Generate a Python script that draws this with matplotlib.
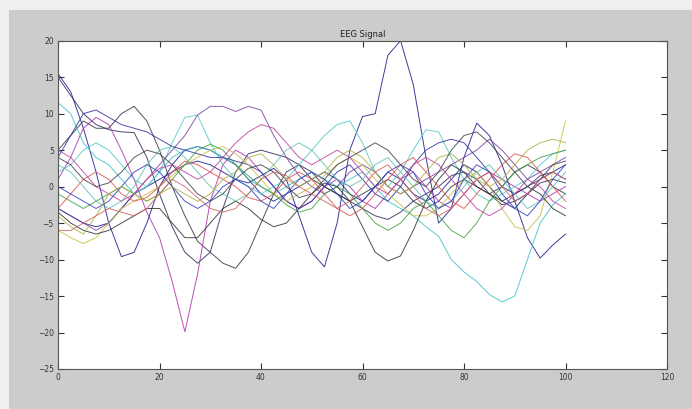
import numpy as np
import matplotlib
matplotlib.use("Agg")
import matplotlib.pyplot as plt
from matplotlib.patches import Rectangle

# sample positions (every 2.5 samples, 0..100)
x = np.arange(0, 100.1, 2.5)

s1 = [15.5, 13, 8, 2, -5, -9.6, -9, -5, 0, 3, 5, 5.5, 5, 4, 3, 1, -1, -2, -1, 0, 1,
      2, 1, -1, -2, 0, 2, 1, -1, -2, -1, 1, 3, 2, 0, -2, -3, -1, 1, 2, 3]
s2 = [15, 12.5, 10, 8.5, 7.8, 7.5, 7.4, 4, -1, -5.5, -9, -10.5, -9, -3, 2, 4.5, 5, 4.5, 4, 3, 1,
      0, -1, -2, -3, -4, -4.5, -3.5, -2, -1, 0, 1.5, 2, 1, -1, -2.5, -2, -1, 0.5, 1, 0.5]
s3 = [5, 7, 9, 8, 8, 10, 11, 9, 5, 0, -4, -7.5, -9, -10.5, -11.2, -9, -5, -1, 2, 3, 2,
      0, -1, -2, -1, 0, 1, 0, -2, -3, -2, 0, 1, 0, -1, 0, 2, 3, 2, 0, -1]
s4 = [-3, -4, -5, -5.5, -5, -3, -1, 0, 1, 2, 3, 3.5, 3, 2, 1, 0.5, 1.5, 2.5, 1, -4, -9,
      -11, -5, 5, 9.6, 10, 18, 20, 14, 4, -5, -3, 4, 8.7, 7, 3, -2, -7, -9.8, -8, -6.5]
s5 = [1, 4, 8, 9.5, 8.5, 5, 1, -3.5, -7, -13, -19.9, -12, -2, 3, 5, 4, 2, 0, -2, -3, -2,
      0, 1, 0, -2, -3, -1, 1, 2, 0, -2, -3, -1, 1, 2, 1, 0, -1, -2, -1, 0]
s6 = [11.5, 10, 6, 4, 3, 1, -1, 0, 2, 4, 5, 5.5, 5, 4, 3, 1, 0, -1, 0, 1, 2,
      1, 0, 1, 2, 0, -2, -3, -4, -5.5, -6.8, -10, -11.7, -13, -14.8, -15.8, -15, -10, -5, -2.5, -1]
s7 = [2, 3, 5, 6, 5, 3, 1, 0, 2, 6, 9.5, 9.8, 6, 3, 1, 0, -1, 0, 1, 3, 5,
      7, 8.5, 9, 6, 2, 0, 2, 5, 7.8, 7.5, 4, 1, -1, -2, -1, 0, 1, 3, 4.5, 5]
s8 = [-3, -4, -5, -6, -5, -3, -1, 1, 3, 5, 7, 9.8, 11, 11, 10.3, 11, 10.5, 7, 4, 1.5, 0,
      -1, 0, 2, 3, 2, 0, -1, 0, 1, 2, 3, 4, 5, 6.5, 5, 3, 1, 2, 3, 4]
s9 = [4, 7, 10, 10.5, 9.5, 8.5, 8, 7.5, 6.5, 5.5, 5, 4.5, 4, 4, 3.5, 3, 2, 0, -2, -3, -2,
      0, 2, 3, 1, -1, -2, 0, 3, 5, 6, 6.5, 6, 4, 2, 0, -1, 0, 1.5, 2, 1]
s10 = [-6, -7, -7.8, -7, -5, -3, -2, -1, 0, 1.5, 3, 4, 5, 5.5, 4.5, 3, 1, -1, -2, -1, 0,
       1.5, 3, 4, 3, 1, -1, -2.5, -4, -4, -3, -1, 1, 2, 0, -3, -5.5, -6, -4, 2, 9]
s11 = [-1, -2, -3, -2, -1, 0, -1, -2, -1, 1, 3, 5, 5.8, 5, 3, 1.5, 0, -1, -2.5, -3.5, -3,
       -1, 0, -1, -3, -5, -6, -5, -3, -2, -4, -6, -7, -5, -2, 0, 2, 3, 4, 4.5, 5]
s12 = [-3, -1, 1, 2, 1, -1, -2, -1.5, 0, 2, 3.5, 3, 2, 1, 0, -1.5, -2, -1, 1, 2, 1,
       -1, -3, -4, -3, -1, 1, 3, 4, 2, 0, -2, -3, -1, 1, 3, 4.5, 4, 2, 0, -2]
s13 = [-3.5, -5, -6, -6.5, -6, -5, -4, -3, -3, -5, -7, -7, -5, -3, -2, -3, -4.5, -5.5, -5, -3, -1,
       0.5, 0, -2, -5.5, -9, -10.2, -9.5, -6, -2, 1, 3, 2, 0, -1, -2, -1, 0, -1, -3, -4]
s14 = [5, 4, 2, 0, -1, -2, -1, 1, 2.5, 3, 2, 1, 2, 4, 6, 7.5, 8.5, 8, 6, 4, 3,
       4, 5, 4, 2, 0, -1, 1, 3, 4, 3, 1, -1, -3, -4, -3, -1, 1, 0, -2, -3]
s15 = [3, 2, 0, -2, -3, -2, 0, 3, 5, 5.5, 4, 2, 0, -1, -2, -1, 1, 3, 5, 6, 5,
       3, 1, 0, 1, 3, 4, 2, 0, -2, -3, -2, 0, 2, 3, 1, -1, -3, -2, 0, 2]
s16 = [0, -1, -2, -3, -2, 0, 2, 3, 2, 0, -2, -3, -2, 0, 1, 0, -2, -3, -1, 1, 2,
       1, -1, -3, -2, 0, 2, 3, 2, -1, -3, -2, 1, 3, 2, -1, -3, -4, -2, 1, 3]
s17 = [-4, -5.5, -6.5, -4, -1, 0, -1, -2, -1, 0, -1, -2, -1, 1, 2, 4, 4.5, 3, 1, 0, 1,
       2, 4, 5, 4, 2, 0, -1, 0, 2, 4, 4.5, 3, 1, 0, 1, 3, 5, 6, 6.5, 6]
s18 = [4, 3, 1, 0, 0.5, 2, 4, 5, 4.5, 3, 1, -1, -2, -1, 1, 2.5, 3, 2, 0, -1.5, -1,
       1, 3, 4, 5, 6, 5, 3, 1, 0, 2, 5, 7, 7.5, 6, 4, 2, 0, 1, 3, 3.5]
s19 = [-6, -6, -5, -4, -3, -3.5, -4, -3, -1, 1, 0, -1.5, -3, -3.5, -3, -1, 1, 2, 1.5, 0, -1,
       -2, -3, -2, 0, 2, 3, 1, -1, -3, -4, -3, -1, 1, 2, 0, -2, -1, 1, 2, 1]

channels = [s1, s2, s3, s4, s5, s6, s7, s8, s9, s10,
            s11, s12, s13, s14, s15, s16, s17, s18, s19]

# matlab-ish line colours, one per channel
colors = ['#1a1a8c', '#2a2a55', '#333344', '#1a1a8c', '#b030b0', '#40c0c8', '#50c8c8',
          '#7a40a0', '#3030a0', '#c8c040', '#40a040', '#e05050', '#303030', '#c040a0',
          '#60c0b0', '#3040c0', '#b0b040', '#404050', '#d06060']

fig = plt.figure(figsize=(6.92, 4.09), dpi=100)
fig.patch.set_facecolor('#efefef')
# grey figure window area
fig.patches.append(Rectangle((9 / 692, 0), 1, (409 - 10) / 409, transform=fig.transFigure,
                             facecolor='#cccccc', edgecolor='none', zorder=-1))

ax = fig.add_axes([58 / 692, 1 - 369 / 409, 609 / 692, 328.3 / 409])
for ch, c in zip(channels, colors):
    ax.plot(x, ch, color=c, lw=0.7, alpha=0.85)

ax.set_xlim(0, 120)
ax.set_ylim(-25, 20)
ax.set_xticks(np.arange(0, 121, 20))
ax.set_yticks(np.arange(-25, 21, 5))
ax.tick_params(direction='in', top=True, right=True, length=4, width=0.8,
               labelsize=5.5, colors='#333333', pad=3)
for sp in ax.spines.values():
    sp.set_color('#555555')
    sp.set_linewidth(0.8)
ax.set_title('EEG Signal', fontsize=6, color='#222222', pad=3)

fig.savefig('out.png', dpi=100)
